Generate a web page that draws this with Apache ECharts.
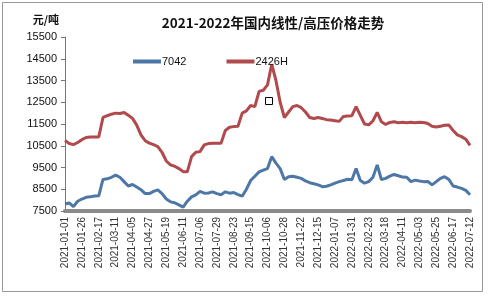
<!DOCTYPE html>
<html><head><meta charset="utf-8">
<script src="https://cdn.jsdelivr.net/npm/echarts@6/dist/echarts.min.js"></script>
<style>html,body{margin:0;padding:0;background:#fff}#c{width:488px;height:296px}</style>
</head><body><div id="c"></div>
<script>
const tickLabels = ['2021-01-01','2021-01-26','2021-02-17','2021-03-11','2021-04-05','2021-04-27','2021-05-19','2021-06-11','2021-07-06','2021-07-29','2021-08-23','2021-09-15','2021-10-06','2021-10-28','2021-11-22','2021-12-15','2022-01-07','2022-01-31','2022-02-23','2022-03-18','2022-04-11','2022-05-03','2022-05-25','2022-06-17','2022-07-12'];
const pointsPerTick = 4;
const s7042 = [7820,7870,7700,7950,8050,8130,8150,8190,8200,8950,8980,9050,9150,9050,8850,8650,8720,8600,8480,8300,8300,8400,8470,8300,8050,7920,7880,7780,7680,7950,8150,8240,8400,8320,8330,8380,8300,8250,8380,8320,8350,8250,8180,8500,8900,9100,9300,9380,9450,10000,9700,9450,8950,9080,9100,9050,9000,8880,8800,8750,8700,8620,8640,8700,8780,8850,8900,8960,8940,9450,8900,8780,8850,9050,9620,8950,9000,9100,9180,9120,9060,9050,8850,8920,8880,8850,8860,8700,8850,9000,9080,8950,8650,8600,8540,8450,8250];
const s2426H = [10750,10600,10550,10650,10780,10880,10900,10900,10900,11800,11880,11950,12000,11980,12030,11900,11760,11450,11000,10730,10620,10550,10460,10200,9800,9620,9560,9450,9310,9310,10000,10200,10230,10540,10600,10620,10620,10620,11200,11350,11380,11400,12000,12100,12350,12300,13000,13050,13300,14250,13500,12500,11800,12050,12300,12350,12250,12050,11800,11750,11800,11750,11700,11680,11650,11620,11850,11870,11880,12300,11900,11500,11460,11650,12030,11600,11480,11570,11600,11560,11580,11560,11580,11560,11580,11570,11520,11400,11360,11400,11440,11450,11200,11000,10920,10800,10520];
const seriesNames = ['7042','2426H'];
const yMin = 7500, yMax = 15500, yStep = 1000;

const toPairs = arr => arr.map((v, i) => [i, v]);
const chart = echarts.init(document.getElementById('c'));
const numFont = '"Liberation Sans", Arial, sans-serif';
chart.setOption({
  animation: false,
  backgroundColor: '#fff',
  title: {
    text: '2021-2022年国内线性/高压价格走势',
    left: 268, top: 11, textAlign: 'center',
    textStyle: {fontSize: 13.5, fontWeight: 'bold', color: '#111', fontFamily: '"Noto Sans CJK SC", sans-serif'}
  },
  legend: {
    top: 51, left: 128, itemGap: 40, itemWidth: 28, itemHeight: 4,
    icon: 'rect',
    data: seriesNames,
    textStyle: {fontSize: 11, color: '#111', fontFamily: numFont, padding: [0,0,0,-4]}
  },
  grid: {left: 65, right: 18, top: 37, bottom: 85},
  xAxis: {
    type: 'value', min: 0, max: (tickLabels.length - 1) * pointsPerTick, interval: pointsPerTick,
    splitLine: {show: false},
    axisLine: {lineStyle: {color: '#8a8a8a', width: 4}},
    axisTick: {show: false},
    axisLabel: {rotate: 90, fontSize: 10, color: '#333', fontFamily: numFont, margin: 6,
      formatter: v => tickLabels[Math.round(v / pointsPerTick)] || ''}
  },
  yAxis: {
    type: 'value', min: yMin, max: yMax, interval: yStep,
    name: '元/吨', nameLocation: 'end', nameGap: 12,
    nameTextStyle: {fontSize: 11, fontWeight: 'bold', color: '#111', align: 'right', padding: [0, 6, 0, 0], fontFamily: '"Noto Sans CJK SC", sans-serif'},
    splitLine: {show: false},
    axisLine: {show: true, lineStyle: {color: '#777', width: 1}},
    axisTick: {show: true, length: 4, lineStyle: {color: '#777'}},
    axisLabel: {fontSize: 11, color: '#111', fontFamily: numFont, margin: 8, formatter: v => String(v)}
  },
  series: [
    {name: seriesNames[0], type: 'line', data: toPairs(s7042), showSymbol: false, symbol: 'none',
     lineStyle: {color: '#4d77a6', width: 3}, itemStyle: {color: '#4d77a6'}},
    {name: seriesNames[1], type: 'line', data: toPairs(s2426H), showSymbol: false, symbol: 'none',
     lineStyle: {color: '#b04a4c', width: 3}, itemStyle: {color: '#b04a4c'}}
  ],
  graphic: [
    {type: 'rect', shape: {x: 2.5, y: 2.5, width: 480, height: 289}, style: {fill: 'none', stroke: '#999', lineWidth: 1}, silent: true},
    {type: 'rect', shape: {x: 265.5, y: 97.5, width: 7, height: 7}, style: {fill: '#fff', stroke: '#000', lineWidth: 1}, silent: true}
  ]
});
</script></body></html>
